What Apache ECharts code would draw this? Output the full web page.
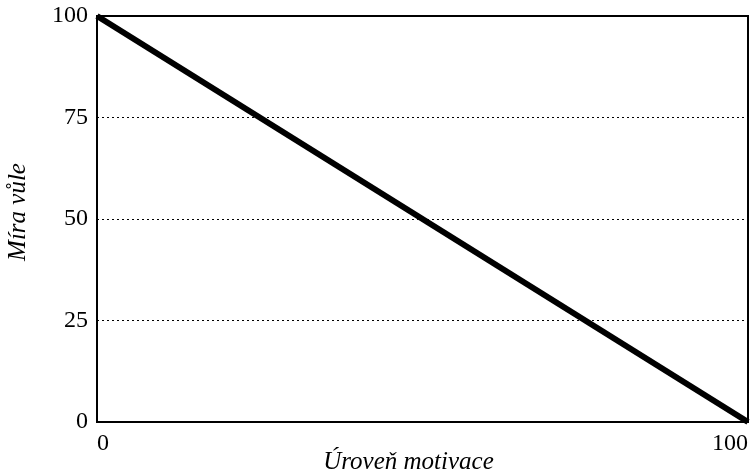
<!DOCTYPE html>
<html><head><meta charset="utf-8">
<script src="https://cdn.jsdelivr.net/npm/echarts@6/dist/echarts.min.js"></script>
<style>html,body{margin:0;padding:0;background:#fff}#c{width:754px;height:476px}</style>
</head><body><div id="c"></div>
<script>
const xValues = [0, 100];
const yValues = [100, 0];
const yTicks = [0, 25, 50, 75, 100];
const xTitle = 'Úroveň motivace';
const yTitle = 'Míra vůle';
const font = '"Liberation Serif", "DejaVu Serif", serif';
const chart = echarts.init(document.getElementById('c'));
chart.setOption({
  animation: false,
  grid: {left: 97, right: 6, top: 16, bottom: 54, show: true, borderColor: '#000', borderWidth: 2, backgroundColor: 'transparent', containLabel: false, outerBoundsMode: 'none'},
  xAxis: {
    type: 'value', min: 0, max: 100, interval: 100,
    name: xTitle, nameLocation: 'middle', nameGap: 28, nameMoveOverlap: false,
    nameTextStyle: {fontFamily: font, fontStyle: 'italic', fontSize: 25, color: '#000', padding: [0, 28, 0, 0]},
    axisLine: {show: true, lineStyle: {color: '#000', width: 2}},
    axisTick: {show: false},
    axisLabel: {fontFamily: font, fontSize: 24, color: '#000', margin: 10, alignMinLabel: 'left', alignMaxLabel: 'right'},
    splitLine: {show: false}
  },
  yAxis: {
    type: 'value', min: 0, max: 100, interval: 25,
    name: yTitle, nameLocation: 'middle', nameGap: 66, nameMoveOverlap: false,
    nameTextStyle: {fontFamily: font, fontStyle: 'italic', fontSize: 25, color: '#000', padding: [0, 0, 0, 14]},
    axisLine: {show: true, lineStyle: {color: '#000', width: 2}},
    axisTick: {show: false},
    axisLabel: {fontFamily: font, fontSize: 24, color: '#000', margin: 9,
      formatter: v => yTicks.includes(v) ? String(v) : ''},
    splitLine: {show: true, lineStyle: {color: '#000', width: 1, type: [2, 3]}}
  },
  series: [{
    type: 'line', data: xValues.map((x, i) => [x, yValues[i]]),
    symbol: 'none', lineStyle: {color: '#000', width: 6}
  }]
});
</script></body></html>
